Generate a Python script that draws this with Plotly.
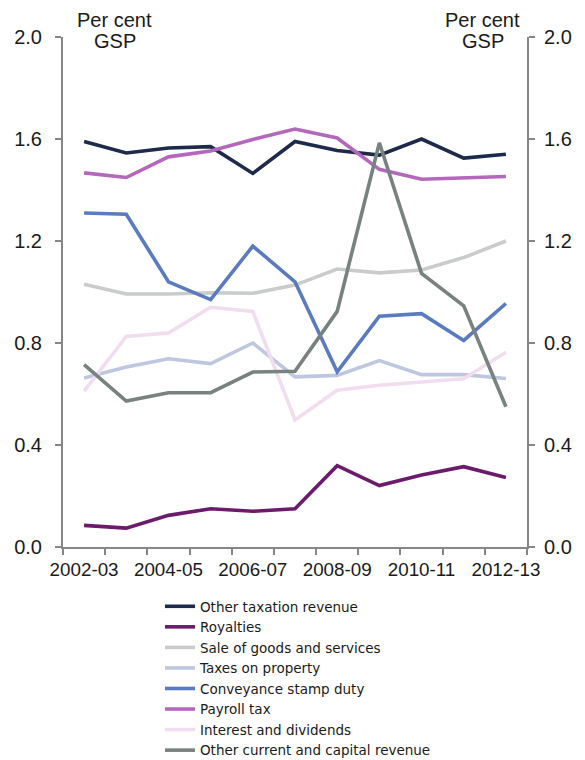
import plotly.graph_objects as go

years = ["2002-03", "2003-04", "2004-05", "2005-06", "2006-07", "2007-08",
         "2008-09", "2009-10", "2010-11", "2011-12", "2012-13"]
tick_labels = ["2002-03", "", "2004-05", "", "2006-07", "", "2008-09", "",
               "2010-11", "", "2012-13"]
y_ticks = [0, 0.4, 0.8, 1.2, 1.6, 2.0]
y_tick_text = ["0.0", "0.4", "0.8", "1.2", "1.6", "2.0"]

other_taxation = [1.59, 1.545, 1.565, 1.57, 1.465, 1.59, 1.555, 1.537, 1.60, 1.525, 1.54]
royalties = [0.085, 0.074, 0.124, 0.150, 0.140, 0.150, 0.319, 0.241, 0.282, 0.315, 0.273]
sale_goods = [1.03, 0.992, 0.992, 0.997, 0.995, 1.027, 1.09, 1.075, 1.086, 1.135, 1.20]
taxes_property = [0.663, 0.706, 0.738, 0.719, 0.800, 0.667, 0.673, 0.731, 0.676, 0.676, 0.661]
conveyance = [1.31, 1.305, 1.04, 0.97, 1.18, 1.04, 0.687, 0.905, 0.915, 0.81, 0.955]
payroll = [1.467, 1.449, 1.53, 1.553, 1.598, 1.639, 1.604, 1.481, 1.442, 1.449, 1.453]
interest_div = [0.611, 0.826, 0.839, 0.940, 0.924, 0.498, 0.615, 0.634, 0.647, 0.660, 0.764]
other_current = [0.715, 0.572, 0.605, 0.605, 0.686, 0.689, 0.924, 1.585, 1.073, 0.946, 0.550]

series = [
    ("Other taxation revenue", other_taxation, "#1E2A4C"),
    ("Royalties", royalties, "#6C1B6C"),
    ("Sale of goods and services", sale_goods, "#C9CCCB"),
    ("Taxes on property", taxes_property, "#BDC7E0"),
    ("Conveyance stamp duty", conveyance, "#5B7BC0"),
    ("Payroll tax", payroll, "#B468BC"),
    ("Interest and dividends", interest_div, "#F1DDEF"),
    ("Other current and capital revenue", other_current, "#78827F"),
]

fig = go.Figure()
for name, vals, color in series:
    fig.add_trace(go.Scatter(x=years, y=vals, name=name, mode="lines",
                             line=dict(color=color, width=3.6)))

# invisible companion trace so the right-hand axis is rendered
fig.add_trace(go.Scatter(x=years, y=other_taxation, yaxis="y2", mode="lines",
                         line=dict(width=0, color="rgba(0,0,0,0)"),
                         showlegend=False, hoverinfo="skip"))

axis_color = "#868686"
tick_font = dict(family="Liberation Sans, Arial, sans-serif", size=20, color="#1a1a1a")
xtick_font = dict(family="Liberation Sans, Arial, sans-serif", size=18.8, color="#1a1a1a")

common_y = dict(range=[0, 2.0], tickmode="array", tickvals=y_ticks, ticktext=y_tick_text,
                ticks="outside", ticklen=6, tickwidth=2, tickcolor=axis_color,
                showline=True, linecolor=axis_color, linewidth=2, showgrid=False,
                zeroline=False, tickfont=tick_font)

# page body has an 8px default margin, so the figure is sized 8px smaller
fig.update_layout(
    width=577, height=752,
    margin=dict(l=55, r=58, t=29, b=213, autoexpand=False),
    plot_bgcolor="white", paper_bgcolor="white",
    showlegend=True,
    legend=dict(x=0.209, y=-0.0863, xanchor="left", yanchor="top",
                font=dict(family="DejaVu Sans, sans-serif", size=13.5, color="#1a1a1a"),
                tracegroupgap=0, bgcolor="rgba(0,0,0,0)"),
    xaxis=dict(type="category", tickmode="array", tickvals=years, ticktext=tick_labels,
               tickson="boundaries", ticks="outside", ticklen=6, tickwidth=2, tickangle=0,
               tickcolor=axis_color, showline=True, linecolor=axis_color, linewidth=2,
               showgrid=False, tickfont=xtick_font, range=[-0.5, 10.5],
               ticklabelstandoff=4),
    yaxis=dict(ticklabelstandoff=9, **common_y),
    yaxis2=dict(overlaying="y", side="right", ticklabelstandoff=5, **common_y),
)

title_font = dict(family="Liberation Sans, Arial, sans-serif", size=20, color="#1a1a1a")
for xc in (0.112, 0.905):
    fig.add_annotation(text="Per cent", xref="paper", yref="paper", x=xc, y=1.0,
                       yshift=17.5, xanchor="center", yanchor="middle",
                       showarrow=False, font=title_font)
    fig.add_annotation(text="GSP", xref="paper", yref="paper", x=xc, y=1.0,
                       yshift=-3.5, xanchor="center", yanchor="middle",
                       showarrow=False, font=title_font)

fig.write_html("out.html")
